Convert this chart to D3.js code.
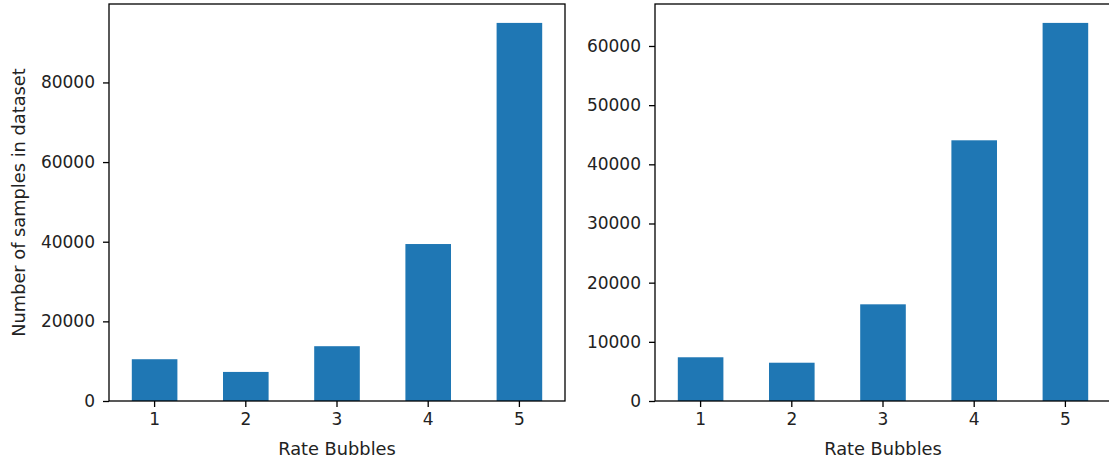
<!DOCTYPE html>
<html>
<head>
<meta charset="utf-8">
<script src="https://cdn.jsdelivr.net/npm/d3@7"></script>
<style>
  html, body { margin: 0; padding: 0; background: #fff; }
  svg { display: block; }
  text { font-family: "DejaVu Sans", sans-serif; fill: #222; }
</style>
</head>
<body>
<svg id="chart" width="1109" height="463"></svg>
<script>
// Rating categories shown on both panels
const categories = ["1", "2", "3", "4", "5"];
// Sample counts per rating, left panel
const leftCounts = [10490, 7300, 13760, 39420, 94950];
// Sample counts per rating, right panel
const rightCounts = [7390, 6470, 16340, 44060, 63900];
// Tick values on each y axis
const leftTicks = [0, 20000, 40000, 60000, 80000];
const rightTicks = [0, 10000, 20000, 30000, 40000, 50000, 60000];

const xLabel = "Rate Bubbles";
const yLabel = "Number of samples in dataset";

const svg = d3.select("#chart");
const tickFont = 17;
const labelFont = 17.8;
const barColor = "#1f77b4";
const plotTop = 4, plotBottom = 401;

function panel(left, right, counts, ticks, showYLabel) {
  const g = svg.append("g");

  const x = d3.scaleBand()
    .domain(categories)
    .range([left, right])
    .paddingInner(0.5)
    .paddingOuter(0.25);

  const y = d3.scaleLinear()
    .domain([0, d3.max(counts) * 1.05])
    .range([plotBottom, plotTop]);

  // bars
  g.selectAll("rect.bar")
    .data(counts)
    .join("rect")
    .attr("class", "bar")
    .attr("x", (d, i) => x(categories[i]))
    .attr("width", x.bandwidth())
    .attr("y", d => y(d))
    .attr("height", d => y(0) - y(d))
    .attr("fill", barColor);

  // x axis
  const xAxis = g.append("g")
    .attr("transform", `translate(0,${plotBottom})`)
    .call(d3.axisBottom(x).tickSize(6).tickPadding(6));
  xAxis.select(".domain").remove();

  // y axis
  const yAxis = g.append("g")
    .attr("transform", `translate(${left},0)`)
    .call(d3.axisLeft(y).tickValues(ticks).tickFormat(d3.format("d")).tickSize(6).tickPadding(8));
  yAxis.select(".domain").remove();

  [xAxis, yAxis].forEach(a => {
    a.selectAll("text")
      .style("font-family", "'DejaVu Sans', sans-serif")
      .style("font-size", tickFont + "px")
      .attr("fill", "#222");
    a.selectAll("line").attr("stroke", "#000").attr("stroke-width", 1.3);
  });

  // frame around the plotting area
  g.append("rect")
    .attr("x", left)
    .attr("y", plotTop)
    .attr("width", right - left)
    .attr("height", plotBottom - plotTop)
    .attr("fill", "none")
    .attr("stroke", "#000")
    .attr("stroke-width", 1.3);

  // x axis title
  g.append("text")
    .attr("x", (left + right) / 2)
    .attr("y", 455)
    .attr("text-anchor", "middle")
    .style("font-size", labelFont + "px")
    .text(xLabel);

  if (showYLabel) {
    g.append("text")
      .attr("transform", `translate(25,${(plotTop + plotBottom) / 2}) rotate(-90)`)
      .attr("text-anchor", "middle")
      .style("font-size", labelFont + "px")
      .text(yLabel);
  }
}

panel(109, 565, leftCounts, leftTicks, true);
panel(655, 1111, rightCounts, rightTicks, false);
</script>
</body>
</html>
